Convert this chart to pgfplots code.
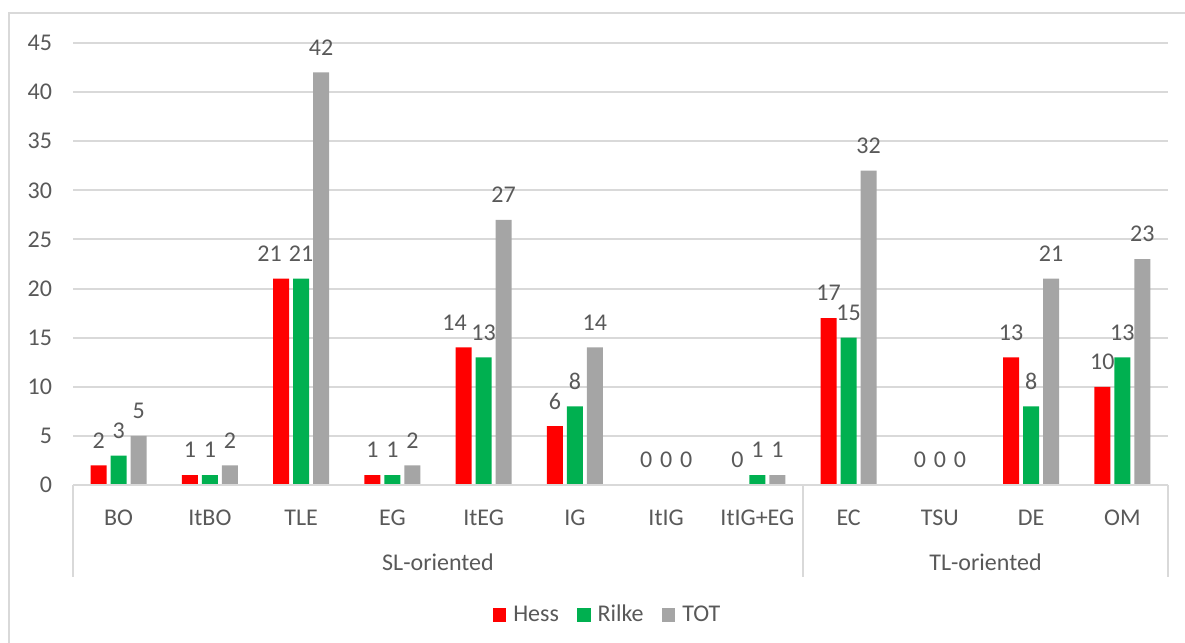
\documentclass[border=0pt]{standalone}
\usepackage{fontspec}
\setmainfont{Carlito}
\usepackage{pgfplots}
\pgfplotsset{compat=1.18}
\usepackage{pgfplotstable}

\definecolor{hessred}{HTML}{FF0000}
\definecolor{rilkegreen}{HTML}{00B050}
\definecolor{totgray}{HTML}{A5A5A5}
\definecolor{txtgray}{HTML}{595959}
\definecolor{linegray}{HTML}{D9D9D9}

% counts per strategy: Hess, Rilke, total; hx nudges crowded Hess labels
\pgfplotstableread{
idx hess rilke tot hx
0   2   3   5    0
1   1   1   2    0
2   21  21  42   -5.75
3   1   1   2    0
4   14  13  27   -4.5
5   6   8   14   0
6   0   0   0    0
7   0   1   1    0
8   17  15  32   0
9   0   0   0    0
10  13  8   21   0
11  10  13  23   0
}\strategies

\newcommand{\chartfont}{\fontsize{12}{14}\selectfont\color{txtgray}}

\begin{document}
\begin{tikzpicture}
\path[use as bounding box] (0,0) rectangle (592.5pt,321.5pt);
% chart frame
\draw[linegray, line width=1pt] (4.5pt,-2pt) -- (4.5pt,315pt) -- (600pt,315pt);

\begin{axis}[
  at={(36.5pt,79pt)}, anchor=south west,
  scale only axis,
  width=547.5pt, height=221pt,
  xmin=-0.5, xmax=11.5,
  ymin=0, ymax=45,
  ytick={0,5,...,45},
  xtick={0,...,11},
  xticklabels={BO,ItBO,TLE,EG,ItEG,IG,ItIG,ItIG+EG,EC,TSU,DE,OM},
  axis lines=left,
  axis line style={draw=none},
  major tick length=0pt,
  ymajorgrids,
  grid style={linegray, line width=1pt},
  /pgf/number format/assume math mode=true,
  tick label style={font=\chartfont},
  yticklabel style={anchor=east, xshift=-7pt},
  xticklabel style={anchor=base, yshift=-20pt},
  ybar=2pt,
  bar width=8pt,
  nodes near coords,
  every node near coord/.append style={font=\chartfont, anchor=center, yshift=12.5pt},
  legend columns=3,
  legend style={draw=none, at={(0.489,0)}, anchor=center, yshift=-65pt,
    font=\chartfont,
    /tikz/every odd column/.append style={column sep=1.5pt},
    /tikz/every even column/.append style={column sep=7pt}},
  legend image code/.code={\fill[#1] (0pt,-3.4pt) rectangle (6.8pt,3.4pt);},
  clip=false,
]
\addplot[fill=hessred, draw=none,
  visualization depends on={\thisrow{hx} \as \hx},
  every node near coord/.append style={xshift=\hx pt}]
  table[x=idx, y=hess] {\strategies};
\addplot[fill=rilkegreen, draw=none] table[x=idx, y=rilke] {\strategies};
\addplot[fill=totgray, draw=none] table[x=idx, y=tot] {\strategies};
\legend{Hess, Rilke, TOT}

% two-level category axis: separators and group names
\draw[linegray, line width=1pt] (axis cs:-0.5,0) -- ([yshift=-46pt]axis cs:-0.5,0);
\draw[linegray, line width=1pt] (axis cs:7.5,0) -- ([yshift=-46pt]axis cs:7.5,0);
\draw[linegray, line width=1pt] (axis cs:11.5,0) -- ([yshift=-46pt]axis cs:11.5,0);
\draw[linegray, line width=1pt] (axis cs:-0.5,0) -- (axis cs:11.5,0);
\node[anchor=base, font=\chartfont] at ([yshift=-42.5pt]axis cs:3.5,0) {SL-oriented};
\node[anchor=base, font=\chartfont] at ([yshift=-42.5pt]axis cs:9.5,0) {TL-oriented};
\end{axis}
\end{tikzpicture}
\end{document}
